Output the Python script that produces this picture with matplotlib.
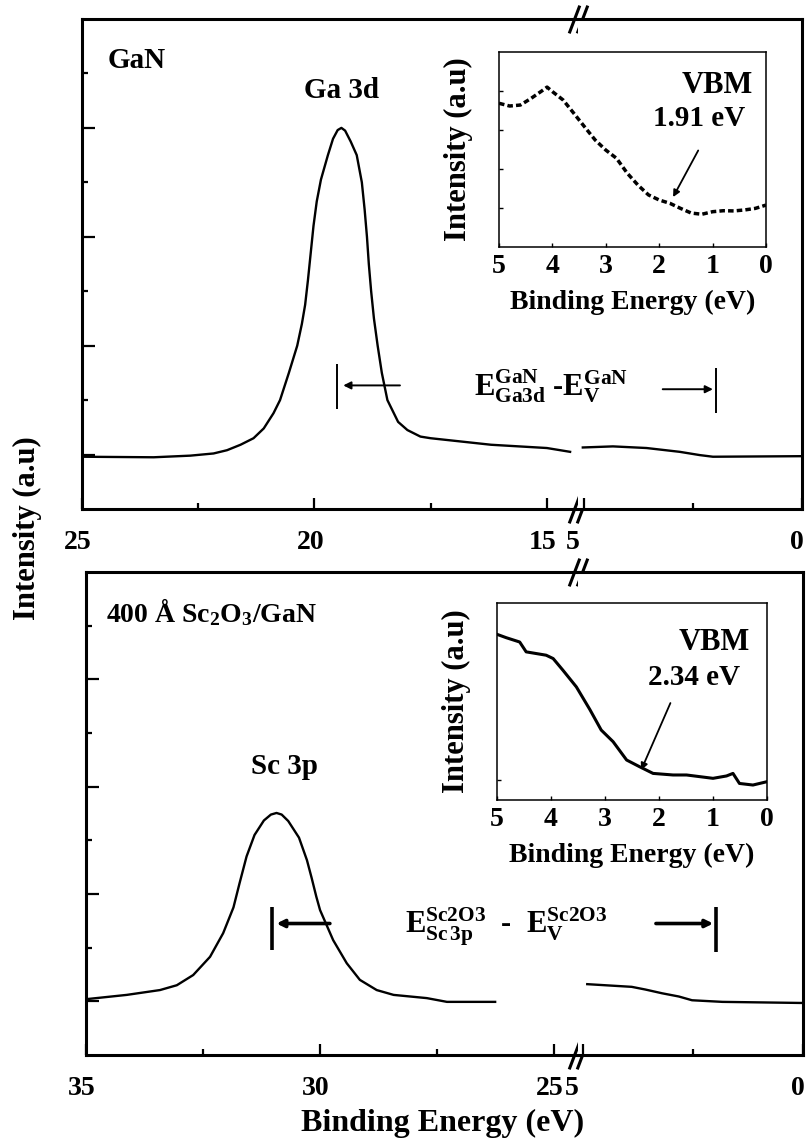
import matplotlib
matplotlib.use("Agg")
import matplotlib.pyplot as plt
from matplotlib.transforms import offset_copy, ScaledTranslation

# --- données (énergie de liaison en eV, intensité en u.a.) ---
# GaN : pic Ga 3d, partie gauche (25 -> 14.5 eV) et partie droite (5 -> 0 eV)
gan_x_left = [25.0, 23.46, 22.67, 22.17, 21.88, 21.59, 21.31, 21.09, 20.88, 20.74,
              20.55, 20.37, 20.27, 20.20, 20.14, 20.08, 20.02, 19.95, 19.86, 19.71,
              19.6, 19.5, 19.42, 19.34, 19.22, 19.09, 18.98, 18.92, 18.87, 18.83,
              18.78, 18.72, 18.64, 18.55, 18.43, 18.2, 18.0, 17.72, 17.5, 16.2,
              15.0, 14.5]
gan_y_left = [0.96, 0.95, 0.98, 1.02, 1.08, 1.18, 1.30, 1.48, 1.76, 2.0,
              2.5, 3.0, 3.4, 3.75, 4.2, 4.7, 5.2, 5.65, 6.05, 6.5,
              6.8, 6.96, 7.0, 6.95, 6.75, 6.5, 6.0, 5.5, 5.0, 4.5,
              4.0, 3.5, 3.0, 2.5, 2.0, 1.6, 1.45, 1.33, 1.30, 1.18,
              1.12, 1.05]
gan_x_right = [5.02, 4.33, 3.56, 2.80, 2.34, 2.04, 0.05, 0.0]
gan_y_right = [1.13, 1.15, 1.12, 1.05, 0.99, 0.96, 0.97, 0.97]

# Sc2O3/GaN : pic Sc 3p
sc_x_left = [35.0, 34.13, 33.42, 33.06, 32.71, 32.35, 32.07, 31.85, 31.72, 31.57,
             31.4, 31.2, 31.05, 30.93, 30.82, 30.68, 30.45, 30.28, 30.18, 30.08,
             30.0, 29.72, 29.43, 29.15, 28.79, 28.43, 27.72, 27.29, 26.26]
sc_y_left = [1.04, 1.12, 1.21, 1.30, 1.49, 1.83, 2.27, 2.75, 3.2, 3.7,
             4.1, 4.37, 4.48, 4.51, 4.48, 4.36, 4.05, 3.63, 3.3, 2.95,
             2.70, 2.14, 1.71, 1.40, 1.21, 1.12, 1.06, 0.99, 0.99]
sc_x_right = [4.90, 3.89, 3.58, 3.20, 2.82, 2.52, 1.83, 0.07, 0.0]
sc_y_right = [1.32, 1.27, 1.22, 1.15, 1.09, 1.02, 0.99, 0.97, 0.97]

# encarts : bande de valence
vb_gan_x = [5.0, 4.8, 4.6, 4.4, 4.2, 4.1, 4.0, 3.8, 3.6, 3.4, 3.2, 3.0, 2.8, 2.6,
            2.4, 2.2, 2.0, 1.8, 1.6, 1.4, 1.2, 1.0, 0.8, 0.6, 0.4, 0.2, 0.0]
vb_gan_y = [0.737, 0.723, 0.728, 0.762, 0.80, 0.82, 0.797, 0.754, 0.686, 0.617,
            0.549, 0.497, 0.455, 0.379, 0.318, 0.267, 0.241, 0.224, 0.198, 0.174,
            0.168, 0.181, 0.186, 0.185, 0.19, 0.198, 0.215]
vb_sc_x = [5.0, 4.83, 4.58, 4.46, 4.09, 3.96, 3.78, 3.53, 3.28, 3.07, 2.85, 2.60,
           2.36, 2.11, 1.74, 1.49, 1.0, 0.75, 0.63, 0.51, 0.26, 0.0]
vb_sc_y = [0.841, 0.824, 0.802, 0.752, 0.735, 0.718, 0.659, 0.574, 0.459, 0.355,
           0.296, 0.203, 0.169, 0.135, 0.127, 0.127, 0.110, 0.122, 0.135, 0.084,
           0.076, 0.093]

W, H = 810, 1142

plt.rcParams["font.family"] = ["Liberation Serif", "DejaVu Serif"]
plt.rcParams["font.weight"] = "bold"
plt.rcParams["axes.labelweight"] = "bold"
plt.rcParams["mathtext.fontset"] = "custom"
plt.rcParams["mathtext.rm"] = "Liberation Serif:bold"
plt.rcParams["mathtext.bf"] = "Liberation Serif:bold"
plt.rcParams["mathtext.it"] = "Liberation Serif:bold:italic"


def box(l, t, r, b):
    """rectangle en pixels (gauche, haut, droite, bas) -> coordonnées figure"""
    return [l / W, 1 - b / H, (r - l) / W, (b - t) / H]


def fx(px):
    return px / W


def fy(py):
    return 1 - py / H


def shift_labels(ax, dx_px, special=None):
    """décale les étiquettes de graduation (comme sur l'original, légèrement à gauche)"""
    fig_ = ax.figure
    for lab in ax.get_xticklabels():
        d = dx_px
        if special and lab.get_text() in special:
            d = special[lab.get_text()]
        lab.set_transform(lab.get_transform() + ScaledTranslation(d / 100, 0, fig_.dpi_scale_trans))


def style_main(axl, axr, lmaj, lmin):
    for ax in (axl, axr):
        for s in ax.spines.values():
            s.set_linewidth(2.2)
        ax.set_ylim(0, 9)
        ax.tick_params(which="both", direction="in", top=False, width=1.6,
                       labelsize=20, pad=15)
        ax.tick_params(which="major", length=8)
        ax.tick_params(which="minor", length=4)
    axl.spines["right"].set_visible(False)
    axr.spines["left"].set_visible(False)
    axl.set_xticks(lmaj)
    axl.set_xticks(lmin, minor=True)
    axl.set_yticks([1, 3, 5, 7])
    axl.set_yticks([2, 4, 6, 8], minor=True)
    axl.set_yticklabels([])
    axl.tick_params(axis="y", which="major", length=9)
    axr.set_xticks([5, 0])
    axr.set_xticks([2.5], minor=True)
    axr.set_yticks([])
    shift_labels(axl, -4)
    shift_labels(axr, -5, {"5": -11})
    # marques de coupure "//"
    for dx in (-3.2, 3.2):
        tr = offset_copy(axl.transAxes, fig=axl.figure, x=dx, y=0, units="points")
        axl.plot([1, 1], [0, 1], transform=tr, ls="none",
                 marker=[(-0.38, -1), (0.38, 1)], markersize=20, mec="k", mew=2.2,
                 clip_on=False, zorder=6)


def bracket(ax, xbar, ybar, xtail, xhead, yarr, lw):
    ax.plot([xbar, xbar], ybar, color="k", lw=lw, solid_capstyle="butt")
    ax.annotate("", xy=(xhead, yarr), xytext=(xtail, yarr),
                arrowprops=dict(arrowstyle="-|>", color="k", lw=lw,
                                mutation_scale=11, shrinkA=0, shrinkB=0))


def inset(rect, x, y, yticks, lstyle, lw, vbm, xytxt, xyhead, txtpos, rel, gap):
    ax = fig.add_axes(rect, zorder=10)
    ax.plot(x, y, color="k", lw=lw, ls=lstyle)
    ax.set_xlim(5, 0)
    ax.set_ylim(0, 1)
    ax.set_xticks([5, 4, 3, 2, 1, 0])
    ax.set_yticks(yticks)
    ax.set_yticklabels([])
    for s in ax.spines.values():
        s.set_linewidth(1.1)
    ax.tick_params(direction="in", length=3, width=1, labelsize=20, pad=5)
    ax.set_xlabel("Binding Energy (eV)", fontsize=20, labelpad=8)
    ax.set_ylabel("Intensity (a.u)", fontsize=22, labelpad=14)
    ax.text(txtpos[0], txtpos[1], "VBM", fontsize=22, ha="right", va="center")
    ax.annotate(vbm, xy=xyhead, xytext=xytxt, fontsize=21, ha="right", va="center",
                textcoords="data",
                arrowprops=dict(arrowstyle="-|>", color="k", lw=1.3,
                                mutation_scale=10, shrinkA=gap, shrinkB=0,
                                relpos=(rel, 0)))
    return ax


fig = plt.figure(figsize=(8.1, 11.42), dpi=100)

# ---------- panneau du haut : GaN ----------
axl1 = fig.add_axes(box(82, 19, 578, 509))
axr1 = fig.add_axes(box(578, 19, 802, 509))
axl1.plot(gan_x_left, gan_y_left, color="k", lw=1.7)
axr1.plot(gan_x_right, gan_y_right, color="k", lw=1.7)
axl1.set_xlim(25, 14.33)
axr1.set_xlim(5.13, 0)
style_main(axl1, axr1, [25, 20, 15], [22.5, 17.5])
bracket(axl1, 19.52, [1.84, 2.66], 18.16, 19.38, 2.27, 1.4)
bracket(axr1, 1.97, [1.76, 2.59], 3.19, 2.04, 2.20, 1.4)

fig.text(fx(108), fy(61), "GaN", fontsize=21, ha="left", va="center")
fig.text(fx(341), fy(91), "Ga 3d", fontsize=21, ha="center", va="center")
fig.text(fx(551), fy(386),
         r"$\mathbf{E}^{\rm GaN}_{\rm Ga3d}$ -$\mathbf{E}^{\rm GaN}_{\rm V}$",
         fontsize=22, ha="center", va="center")

# ---------- panneau du bas : Sc2O3/GaN ----------
axl2 = fig.add_axes(box(86, 572, 578, 1055))
axr2 = fig.add_axes(box(578, 572, 803, 1055))
axl2.plot(sc_x_left, sc_y_left, color="k", lw=1.7)
axr2.plot(sc_x_right, sc_y_right, color="k", lw=1.7)
axl2.set_xlim(35, 24.49)
axr2.set_xlim(5.11, 0)
style_main(axl2, axr2, [35, 30, 25], [32.5, 27.5])
bracket(axl2, 31.03, [1.96, 2.76], 29.79, 30.93, 2.45, 2.6)
bracket(axr2, 1.98, [1.92, 2.76], 3.34, 2.04, 2.45, 2.6)

fig.text(fx(106), fy(612), r"400 Å Sc$_2$O$_3$/GaN", fontsize=20,
         ha="left", va="center")
fig.text(fx(284), fy(767), "Sc 3p", fontsize=21, ha="center", va="center")
fig.text(fx(506), fy(927),
         r"$\mathbf{E}^{\rm Sc2O3}_{\rm Sc\,3p}$  -  $\mathbf{E}^{\rm Sc2O3}_{\rm V}$",
         fontsize=22, ha="center", va="center")

fig.text(fx(443), fy(1123), "Binding Energy (eV)", fontsize=23,
         ha="center", va="center")
fig.text(fx(27), fy(528), "Intensity (a.u)", fontsize=22, rotation=90,
         ha="center", va="center")

# ---------- encarts : bande de valence ----------
inset(box(499, 52, 766, 247), vb_gan_x, vb_gan_y, [0.2, 0.4, 0.6, 0.8],
      (0, (1.6, 0.9)), 2.5, "1.91 eV", (0.39, 0.66), (1.74, 0.256), (0.24, 0.83),
      0.6, 13)
inset(box(497, 603, 767, 800), vb_sc_x, vb_sc_y, [0.1],
      "-", 2.2, "2.34 eV", (0.5, 0.62), (2.33, 0.152), (0.31, 0.80),
      0.3, 7)

fig.savefig("out.png", dpi=100)
